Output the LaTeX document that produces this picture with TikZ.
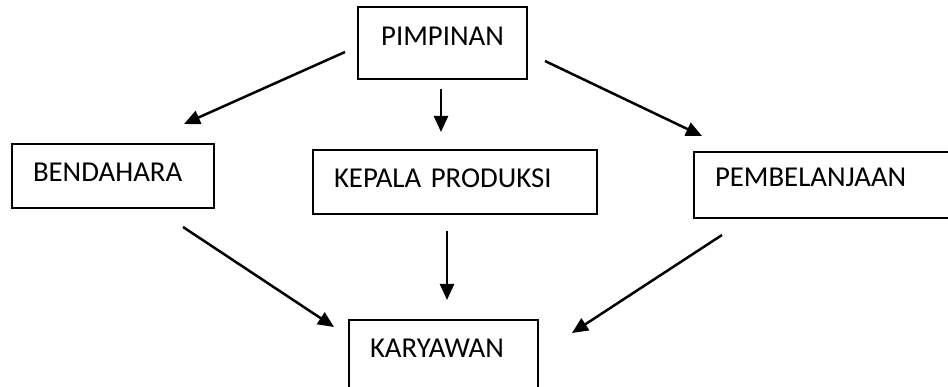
\documentclass[tikz,border=0pt]{standalone}
\usepackage{fontspec}
\setmainfont{Carlito}
\usetikzlibrary{arrows.meta,calc}

\begin{document}
\begin{tikzpicture}[x=1pt,y=-1pt,>={Triangle[length=16pt,width=14pt]},
    unit/.style={draw,line width=2pt,inner xsep=21pt,inner ysep=0pt,anchor=base west,
      align=left,text height=38pt,text depth=26pt,font=\fontsize{28.8}{34}\selectfont},
    link/.style={->,line width=2.5pt}]
        \clip (0,0) rectangle (948,387);
        % --- kotak ---
        \node[unit,text width=127pt,align=center,text height=39pt,text depth=33pt] (pimpinan) at (357,46) {PIMPINAN};
        \node[unit,text width=160pt] (bendahara) at (11,182) {BENDAHARA};
        \node[unit,text width=242pt] (kepala) at (312,188) {KEPALA PRODUKSI};
        \node[unit,text width=228pt,text height=35pt,text depth=31pt] (pembelanjaan) at (693,187) {PEMBELANJAAN};
        \node[unit,text width=147pt,text height=37pt,text depth=38pt] (karyawan) at (348,357) {KARYAWAN};
        % --- dari pimpinan ---
        \draw[link] ($(pimpinan.west)+(-12,9)$) -- ($(bendahara.north east)+(-31,-19)$);
        \draw[link] ($(pimpinan.south)+(-1.5,9)$) -- ($(kepala.north)+(-14,-17)$);
        \draw[link] ($(pimpinan.east)+(17,18)$) -- ($(pembelanjaan.north west)+(9,-15)$);
        % --- ke karyawan ---
        \draw[link] ($(bendahara.south)+(70,18)$) -- ($(karyawan.north west)+(-14,8)$);
        \draw[link] ($(kepala.south)+(-8,16)$) -- ($(karyawan.north)+(3.5,-19)$);
        \draw[link] ($(pembelanjaan.south west)+(29,16)$) -- ($(karyawan.north east)+(33,14)$);
\end{tikzpicture}
\end{document}
